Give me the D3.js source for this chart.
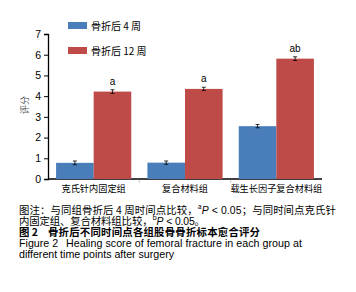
<!DOCTYPE html>
<html>
<head>
<meta charset="utf-8">
<script src="https://cdn.jsdelivr.net/npm/d3@7"></script>
<style>
  body { margin: 0; background: #fff; }
  text { font-family: "Liberation Sans", Arial, "Noto Sans CJK SC", sans-serif; }
  .cjk { font-family: "Noto Sans CJK SC", sans-serif; }
</style>
</head>
<body>
<svg id="chart" width="356" height="292"></svg>
<script>
// chart values
const groups = ["克氏针内固定组", "复合材料组", "载生长因子复合材料组"];
const seriesNames = ["骨折后 4 周", "骨折后 12 周"];
const week4 = [0.78, 0.79, 2.55];
const week12 = [4.22, 4.35, 5.81];
const err4 = [0.09, 0.08, 0.08];
const err12 = [0.09, 0.08, 0.09];
const marks12 = ["a", "a", "ab"];
const yTicks = [0, 1, 2, 3, 4, 5, 6, 7];
const colors = ["#4a7ebb", "#be4b48"];

const svg = d3.select("#chart");

const x = d3.scaleBand().domain(groups).range([48, 322]).paddingInner(0).paddingOuter(0);
const xs = d3.scaleBand().domain([0, 1]).range([0, x.bandwidth()]).paddingInner(0).paddingOuter(0.215);
const y = d3.scaleLinear().domain([0, 7]).range([179, 34]);

// y axis
const yAxis = svg.append("g")
    .attr("transform", "translate(48,0)")
    .call(d3.axisLeft(y).tickValues(yTicks).tickSize(4).tickPadding(3).tickFormat(d3.format("d")));
yAxis.select(".domain").attr("stroke", "#000").attr("stroke-width", 1.3);
yAxis.selectAll("text").attr("font-size", 10.5).attr("fill", "#000");

// x axis
const xAxis = svg.append("g").attr("transform", "translate(0,179)");
xAxis.append("line").attr("x1", 48).attr("x2", 322).attr("stroke", "#000").attr("stroke-width", 1.3);
xAxis.selectAll(".tk").data(groups.slice(1)).enter().append("line")
    .attr("x1", d => x(d)).attr("x2", d => x(d)).attr("y1", 1).attr("y2", 4).attr("stroke", "#ccc");
xAxis.selectAll(".lbl").data(groups).enter().append("text")
    .attr("class", "cjk")
    .attr("x", d => x(d) + x.bandwidth() / 2)
    .attr("y", 13)
    .attr("text-anchor", "middle")
    .attr("font-size", 9.2)
    .text(d => d);

// y label
svg.append("text").attr("class", "cjk")
    .attr("transform", "translate(28,105) rotate(-90)")
    .attr("text-anchor", "middle").attr("font-size", 9).attr("fill", "#555")
    .text("评分");

// bars
const series = [week4, week12];
const errs = [err4, err12];
series.forEach((vals, s) => {
    const g = svg.append("g");
    g.selectAll("rect").data(groups).enter().append("rect")
        .attr("x", d => x(d) + xs(s))
        .attr("y", (d, i) => y(vals[i]))
        .attr("width", xs.bandwidth())
        .attr("height", (d, i) => y(0) - y(vals[i]))
        .attr("fill", colors[s]);
    const eb = g.selectAll(".eb").data(groups).enter().append("g")
        .attr("stroke", "#000").attr("stroke-width", 0.8);
    eb.append("line")
        .attr("x1", d => x(d) + xs(s) + xs.bandwidth() / 2)
        .attr("x2", d => x(d) + xs(s) + xs.bandwidth() / 2)
        .attr("y1", (d, i) => y(vals[i] - errs[s][i]))
        .attr("y2", (d, i) => y(vals[i] + errs[s][i]));
    [-1, 1].forEach(k => {
        eb.append("line")
            .attr("x1", d => x(d) + xs(s) + xs.bandwidth() / 2 - 2)
            .attr("x2", d => x(d) + xs(s) + xs.bandwidth() / 2 + 2)
            .attr("y1", (d, i) => y(vals[i] + k * errs[s][i]))
            .attr("y2", (d, i) => y(vals[i] + k * errs[s][i]));
    });
});

// significance marks
svg.selectAll(".sig").data(groups).enter().append("text")
    .attr("x", d => x(d) + xs(1) + xs.bandwidth() / 2)
    .attr("y", (d, i) => y(week12[i] + err12[i]) - 5)
    .attr("text-anchor", "middle").attr("font-size", 10)
    .text((d, i) => marks12[i]);

// legend
const legend = svg.append("g");
seriesNames.forEach((n, i) => {
    legend.append("rect").attr("x", 68).attr("y", 22 + i * 25).attr("width", 19).attr("height", 7).attr("fill", colors[i]);
    legend.append("text").attr("class", "cjk").attr("x", 91).attr("y", 29.5 + i * 25)
        .attr("font-size", 10).text(n);
});

// caption
const cap = svg.append("g").attr("font-size", 10.4);
const l1 = cap.append("text").attr("x", 19).attr("y", 214).attr("class", "cjk")
    .attr("textLength", 317).attr("lengthAdjust", "spacing");
l1.append("tspan").text("图注：与同组骨折后 4 周时间点比较，");
l1.append("tspan").attr("font-size", 7).attr("baseline-shift", "super").text("a");
l1.append("tspan").attr("font-style", "italic").attr("font-family", "Liberation Sans").text("P");
l1.append("tspan").attr("font-family", "Liberation Sans").text(" < 0.05");
l1.append("tspan").text("；与同时间点克氏针");
const l2 = cap.append("text").attr("x", 19).attr("y", 225).attr("class", "cjk")
    .attr("textLength", 186).attr("lengthAdjust", "spacing");
l2.append("tspan").text("内固定组、复合材料组比较，");
l2.append("tspan").attr("font-size", 7).attr("baseline-shift", "super").text("b");
l2.append("tspan").attr("font-style", "italic").attr("font-family", "Liberation Sans").text("P");
l2.append("tspan").attr("font-family", "Liberation Sans").text(" < 0.05");
l2.append("tspan").text("。");
cap.append("text").attr("x", 19).attr("y", 236).attr("class", "cjk").attr("font-weight", "bold")
    .text("图 2");
cap.append("text").attr("x", 48).attr("y", 236).attr("class", "cjk").attr("font-weight", "bold")
    .attr("textLength", 212).attr("lengthAdjust", "spacing")
    .text("骨折后不同时间点各组股骨骨折标本愈合评分");
cap.append("text").attr("x", 19).attr("y", 247).attr("font-size", 10.7).text("Figure 2");
cap.append("text").attr("x", 66).attr("y", 247).attr("font-size", 10.7)
    .attr("textLength", 236).attr("lengthAdjust", "spacing")
    .text("Healing score of femoral fracture in each group at");
cap.append("text").attr("x", 19).attr("y", 258).attr("font-size", 10.7)
    .attr("textLength", 155).attr("lengthAdjust", "spacing")
    .text("different time points after surgery");
</script>
</body>
</html>
